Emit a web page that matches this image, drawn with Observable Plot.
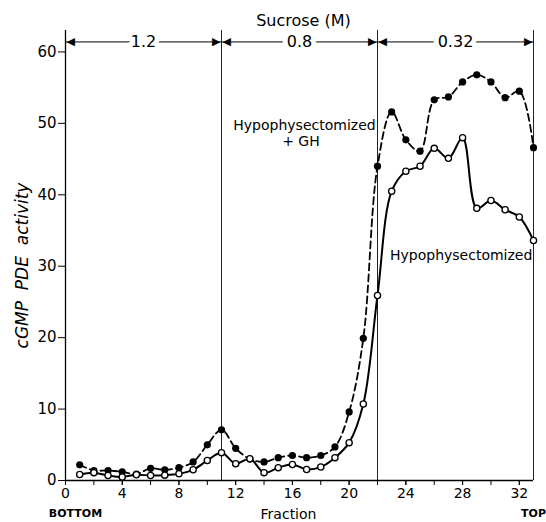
<!DOCTYPE html>
<html><head><meta charset="utf-8">
<script src="https://cdn.jsdelivr.net/npm/d3@7"></script>
<script src="https://cdn.jsdelivr.net/npm/@observablehq/plot@0.6"></script>
<style>body{margin:0;background:#fff}</style></head>
<body><div id="chart"></div>
<script>
const fractions = [1,2,3,4,5,6,7,8,9,10,11,12,13,14,15,16,17,18,19,20,21,22,23,24,25,26,27,28,29,30,31,32,33];
const ghValues = [2.2,1.4,1.4,1.2,0.9,1.7,1.5,1.8,2.6,5.0,7.1,4.5,3.0,2.6,3.2,3.5,3.2,3.5,4.7,9.6,19.9,44.0,51.6,47.7,46.1,53.3,53.7,55.8,56.8,55.8,53.6,54.5,46.6];
const hypoValues = [0.85,1.1,0.7,0.5,0.8,0.7,0.75,0.95,1.5,2.8,3.9,2.35,3.05,1.1,1.8,2.25,1.55,1.9,3.2,5.3,10.7,25.9,40.5,43.3,44.0,46.5,45.1,48.0,38.1,39.2,37.9,36.9,33.6];
const zoneBounds = [0, 11, 22, 33];
const zoneLabels = ["1.2", "0.8", "0.32"];
const xTicksMajor = [0,4,8,12,16,20,24,28,32];
const xTicksMinor = [0,2,4,6,8,10,12,14,16,18,20,22,24,26,28,30,32];
const yTicks = [0,10,20,30,40,50,60];

const gh = fractions.map((f, i) => ({fraction: f, value: ghValues[i]}));
const hypo = fractions.map((f, i) => ({fraction: f, value: hypoValues[i]}));
const zones = zoneLabels.map((l, i) => ({x1: zoneBounds[i], x2: zoneBounds[i + 1], label: l}));
const arrowY = 61.4;
const yMax = 63;

const chart = Plot.plot({
  width: 546, height: 522,
  marginLeft: 65, marginRight: 13, marginTop: 30, marginBottom: 42,
  x: {domain: [0, 33]},
  y: {domain: [0, yMax]},
  style: {fontFamily: "DejaVu Sans", fontSize: "14px", background: "white", color: "black"},
  marks: [
    Plot.ruleX(zoneBounds, {y1: 0, y2: yMax, stroke: "#222", strokeWidth: 1}),
    Plot.ruleX([0], {y1: 0, y2: yMax, stroke: "black", strokeWidth: 1.3}),
    Plot.ruleY([0], {x1: 0, x2: 33, stroke: "black", strokeWidth: 1.3}),
    Plot.link(zones, {x1: "x1", x2: "x2", y1: () => arrowY, y2: () => arrowY, stroke: "black", strokeWidth: 1}),
    Plot.text(zones, {x: "x1", y: () => arrowY, text: () => "◀", textAnchor: "start", fontSize: 11, dx: 1}),
    Plot.text(zones, {x: "x2", y: () => arrowY, text: () => "▶", textAnchor: "end", fontSize: 11, dx: -1}),
    Plot.text(zones, {x: d => (d.x1 + d.x2) / 2, y: () => arrowY, text: "label", fontSize: 16, stroke: "white", strokeWidth: 10, fill: "black"}),
    Plot.axisY({ticks: yTicks, tickSize: 7, tickPadding: 2, label: null, fontSize: 15}),
    Plot.axisX({ticks: xTicksMinor, tickSize: 5, tickFormat: () => "", label: null}),
    Plot.axisX({ticks: xTicksMajor, tickSize: 5, tickPadding: 3, label: null, fontSize: 14}),
    Plot.line(gh, {x: "fraction", y: "value", curve: "catmull-rom", stroke: "black", strokeWidth: 1.8, strokeDasharray: "7,4"}),
    Plot.line(hypo, {x: "fraction", y: "value", curve: "catmull-rom", stroke: "black", strokeWidth: 2}),
    Plot.dot(gh, {x: "fraction", y: "value", r: 3.6, fill: "black", stroke: "none"}),
    Plot.dot(hypo, {x: "fraction", y: "value", r: 3.1, fill: "white", stroke: "black", strokeWidth: 1.3}),
    Plot.text(["Hypophysectomized"], {x: 16.85, y: 49.7, text: d => d, fontSize: 14}),
    Plot.text(["+ GH"], {x: 16.6, y: 47.4, text: d => d, fontSize: 14}),
    Plot.text(["Hypophysectomized"], {x: 27.9, y: 31.5, text: d => d, fontSize: 14}),
    Plot.text(["Sucrose (M)"], {frameAnchor: "top", dy: -10, dx: 4, lineAnchor: "middle", text: d => d, fontSize: 16, letterSpacing: "1.5px"}),
    Plot.text(["Fraction"], {frameAnchor: "bottom", dy: 34, dx: -11, lineAnchor: "middle", text: d => d, fontSize: 14, letterSpacing: "1px"}),
    Plot.text(["BOTTOM"], {frameAnchor: "bottom-left", dx: 10, dy: 33, lineAnchor: "middle", textAnchor: "middle", text: d => d, fontSize: 11, fontWeight: "bold"}),
    Plot.text(["TOP"], {frameAnchor: "bottom-right", dy: 33, lineAnchor: "middle", textAnchor: "middle", text: d => d, fontSize: 11, fontWeight: "bold"}),
    Plot.text(["cGMP  PDE  activity"], {frameAnchor: "left", dx: -43, dy: 10, rotate: -90, lineAnchor: "middle", textAnchor: "middle", text: d => d, fontSize: 17, fontStyle: "italic", letterSpacing: "1px"})
  ]
});
document.getElementById("chart").appendChild(chart);
</script>
</body></html>
